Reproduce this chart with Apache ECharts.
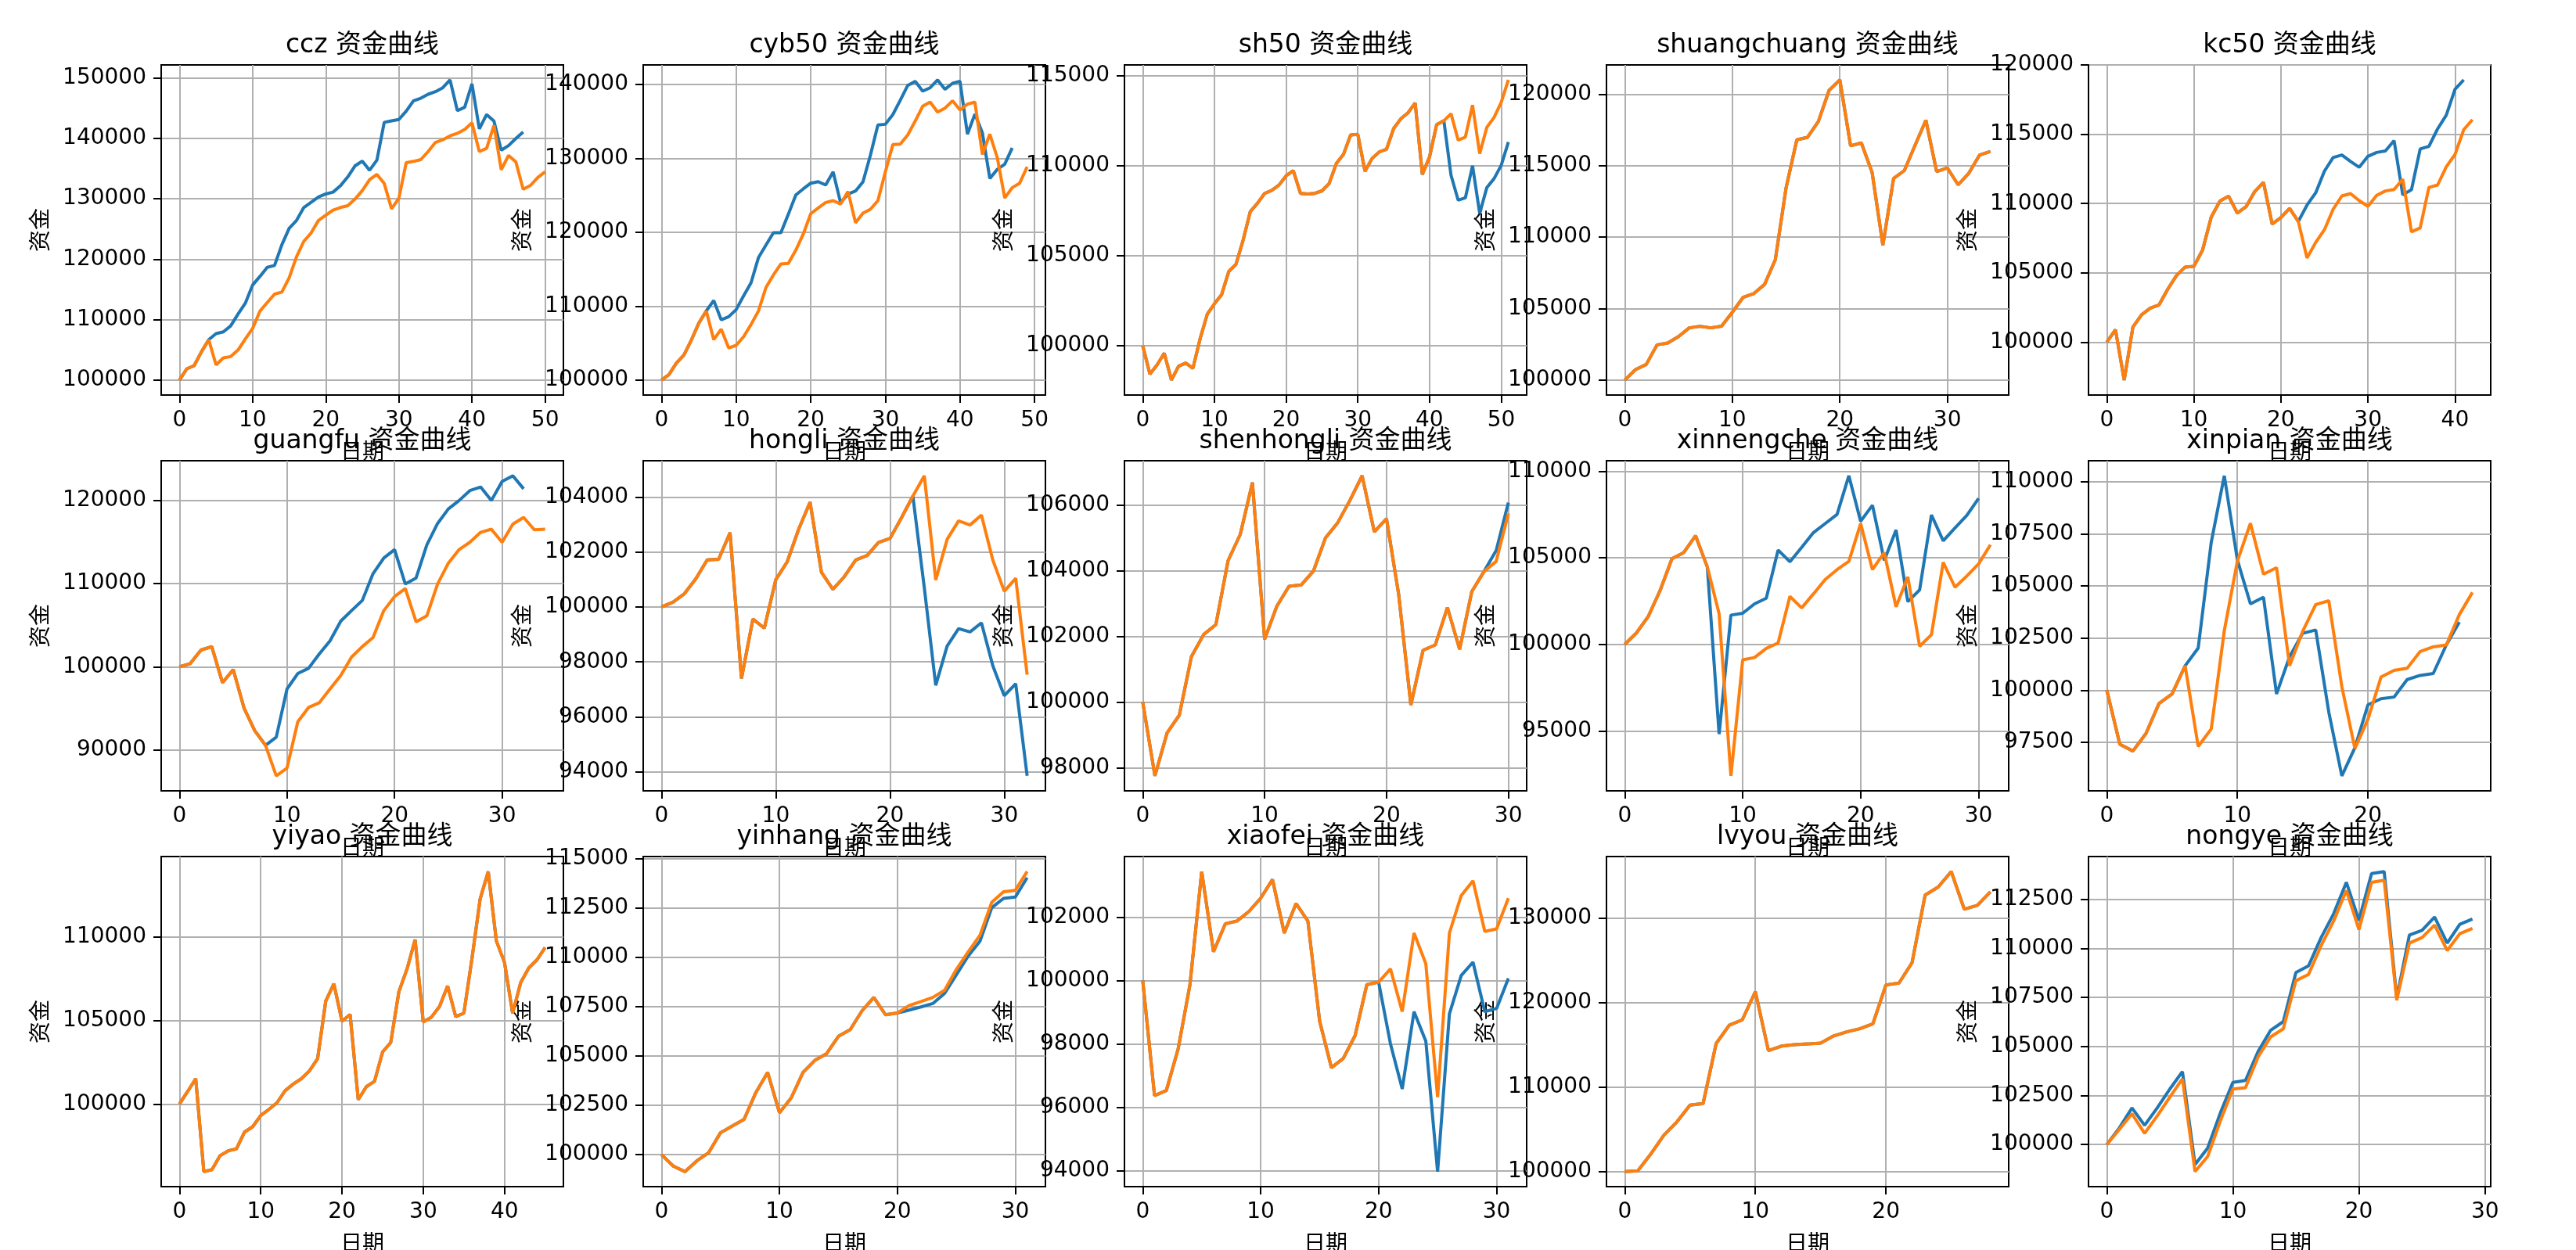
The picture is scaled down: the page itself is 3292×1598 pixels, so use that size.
<!DOCTYPE html>
<html><head><meta charset="utf-8">
<script src="https://cdn.jsdelivr.net/npm/echarts@6/dist/echarts.min.js"></script>
<style>html,body{margin:0;padding:0;background:#fff}#c{width:3292px;height:1598px}</style>
</head><body><div id="c"></div>
<script>
// ---------- labels ----------
const names = ['ccz','cyb50','sh50','shuangchuang','kc50','guangfu','hongli','shenhongli','xinnengche','xinpian','yiyao','yinhang','xiaofei','lvyou','nongye'];
const titleSuffix = '资金曲线';
const yName = '资金';
const xName = '日期';

// ---------- data (blue = strategy A, orange = strategy B) ----------
const cczBlue = [100000,101850,102370,104650,106680,107670,107970,108960,110900,112700,115720,117140,118650,118950,122390,125110,126400,128550,129410,130280,130790,131090,132130,133590,135440,136220,134710,136390,142640,142890,143110,144490,146210,146640,147290,147720,148360,149660,144570,145130,149010,141560,143930,142850,138030,138800,139970,141040];
const cczOrange = [100000,101850,102370,104650,106680,102500,103660,103880,104950,106800,108530,111410,112830,114210,114560,116920,120370,122950,124330,126400,127260,128120,128550,128850,129930,131350,133160,134020,132520,128340,130060,135960,136180,136480,137810,139320,139750,140400,140830,141470,142550,137810,138330,142120,134800,137170,136090,131570,132210,133510,134450];

const cyb50Blue = [100000,100740,102290,103390,105400,107690,109350,110760,108150,108570,109520,111390,113160,116580,118270,119930,119930,122430,125040,125860,126630,126840,126380,128150,123990,125150,125570,126810,130440,134500,134600,135910,137850,139860,140420,139080,139540,140600,139330,140140,140420,133260,135980,133440,127270,128500,129210,131390];
const cyb50Orange = [100000,100740,102290,103390,105400,107690,109350,105470,106880,104340,104690,105860,107510,109350,112520,114220,115700,115770,117570,119750,122500,123280,124020,124270,123810,125500,121270,122570,123100,124270,128150,131850,131920,133160,135030,137040,137600,136260,136790,137780,136540,137320,137600,130510,133260,130090,124620,126030,126630,128850];

const sh50Blue = [100000,98420,98930,99580,98090,98860,99030,98740,100380,101750,102330,102830,104130,104520,105870,107460,107920,108470,108640,108930,109450,109730,108470,108440,108470,108610,109020,110130,110640,111720,111750,109700,110420,110780,110920,112080,112620,112950,113500,109520,110490,112300,112510,109480,108090,108220,110010,107360,108800,109290,110030,111320];
const sh50Orange = [100000,98420,98930,99580,98090,98860,99030,98740,100380,101750,102330,102830,104130,104520,105870,107460,107920,108470,108640,108930,109450,109730,108470,108440,108470,108610,109020,110130,110640,111720,111750,109700,110420,110780,110920,112080,112620,112950,113500,109520,110490,112300,112510,112900,111430,111600,113380,110680,112150,112690,113530,114780];

const shuangchuangBlue = [100000,100730,101090,102460,102590,103040,103650,103760,103650,103770,104740,105780,106050,106690,108420,113440,116810,116990,118090,120270,121000,116390,116590,114530,109430,114110,114660,116440,118180,114590,114840,113660,114480,115750,115990];
const shuangchuangOrange = [100000,100730,101090,102460,102590,103040,103650,103760,103650,103770,104740,105780,106050,106690,108420,113440,116810,116990,118090,120270,121000,116390,116590,114530,109430,114110,114660,116440,118180,114590,114840,113660,114480,115750,115990];

const kc50Blue = [100000,100900,97270,101090,101980,102460,102690,103820,104800,105420,105470,106640,109030,110180,110530,109310,109780,110870,111530,108520,108990,109650,108710,109890,110780,112340,113320,113510,113040,112620,113410,113690,113790,114540,110630,111000,113940,114130,115390,116380,118250,118920];
const kc50Orange = [100000,100900,97270,101090,101980,102460,102690,103820,104800,105420,105470,106640,109030,110180,110530,109310,109780,110870,111530,108520,108990,109650,108710,106080,107200,108110,109590,110550,110720,110210,109800,110590,110910,111020,111760,107960,108240,111160,111340,112660,113540,115330,116050];

const guangfuBlue = [100000,100390,102020,102430,98100,99660,95050,92320,90560,91540,97340,99190,99820,101550,103120,105500,106760,107980,111210,113090,114100,109960,110680,114660,117240,118990,120000,121190,121630,120000,122290,122980,121410];
const guangfuOrange = [100000,100390,102020,102430,98100,99660,95050,92320,90560,86890,87830,93390,95110,95680,97340,98970,101170,102430,103520,106760,108450,109420,105410,106130,109960,112470,114100,114980,116170,116550,114980,117170,117960,116480,116550];

const hongliBlue = [100000,100170,100480,101020,101710,101730,102700,97400,99560,99230,100990,101640,102820,103810,101260,100640,101100,101710,101870,102350,102490,103240,104030,100700,97150,98580,99210,99090,99420,97860,96770,97210,93860];
const hongliOrange = [100000,100170,100480,101020,101710,101730,102700,97400,99560,99230,100990,101640,102820,103810,101260,100640,101100,101710,101870,102350,102490,103240,104030,104770,100980,102460,103130,102980,103340,101700,100570,101040,97540];

const shenhongliBlue = [100000,97750,99060,99600,101390,102060,102360,104310,105110,106690,101910,102920,103530,103570,103990,105010,105470,106150,106900,105190,105590,103280,99910,101580,101740,102880,101610,103370,103980,104620,106080];
const shenhongliOrange = [100000,97750,99060,99600,101390,102060,102360,104310,105110,106690,101910,102920,103530,103570,103990,105010,105470,106150,106900,105190,105590,103280,99910,101580,101740,102880,101610,103370,103980,104290,105750];

const xinnengcheBlue = [100000,100670,101620,103120,104950,105300,106280,104470,94820,101690,101800,102340,102670,105450,104770,105600,106460,106980,107510,109740,107110,108040,104850,106610,102470,103150,107480,105980,106730,107450,108430];
const xinnengcheOrange = [100000,100670,101620,103120,104950,105300,106280,104470,101770,92410,99110,99240,99770,100080,102770,102110,102920,103750,104320,104800,106980,104320,105300,102170,103900,99890,100560,104740,103300,103950,104650,105750];

const xinpianBlue = [100000,97400,97080,97920,99360,99820,101170,102020,107100,110290,106250,104140,104460,99820,101610,102730,102890,98950,95890,97240,99300,99590,99670,100510,100710,100800,102170,103270];
const xinpianOrange = [100000,97400,97080,97920,99360,99820,101170,97300,98140,102860,106190,108010,105570,105880,101170,102820,104110,104290,100170,97200,98610,100630,100950,101050,101860,102080,102170,103630,104690];

const yiyaoBlue = [100000,100750,101520,95950,96070,96910,97200,97310,98320,98640,99310,99680,100080,100800,101200,101520,102000,102720,106170,107210,104970,105370,100270,101040,101360,103130,103690,106730,108090,109860,104920,105210,105850,107080,105240,105450,108730,112290,113940,109780,108490,105450,107290,108170,108650,109380];
const yiyaoOrange = [100000,100750,101520,95950,96070,96910,97200,97310,98320,98640,99310,99680,100080,100800,101200,101520,102000,102720,106170,107210,104970,105370,100270,101040,101360,103130,103690,106730,108090,109860,104920,105210,105850,107080,105240,105450,108730,112290,113940,109780,108490,105450,107290,108170,108650,109380];

const yinhangBlue = [100000,99420,99140,99690,100100,101110,101450,101790,103150,104170,102130,102880,104170,104780,105120,106000,106340,107290,107970,107090,107180,107330,107490,107660,108170,109120,110070,110820,112520,112990,113060,114040];
const yinhangOrange = [100000,99420,99140,99690,100100,101110,101450,101790,103150,104170,102130,102880,104170,104780,105120,106000,106340,107290,107970,107090,107180,107560,107760,107970,108330,109390,110280,111120,112790,113330,113400,114350];

const xiaofeiBlue = [100000,96370,96530,97840,99860,103440,100910,101790,101880,102180,102600,103190,101500,102430,101880,98720,97250,97540,98260,99870,99950,98010,96580,99020,98090,93970,98950,100160,100580,99020,99120,100070];
const xiaofeiOrange = [100000,96370,96530,97840,99860,103440,100910,101790,101880,102180,102600,103190,101500,102430,101880,98720,97250,97540,98260,99870,99950,100370,99020,101500,100530,96320,101500,102680,103150,101550,101630,102600];

const lvyouBlue = [100000,100100,102100,104320,105900,107870,108060,115170,117330,117970,121300,114320,114860,115020,115110,115210,116060,116540,116920,117490,122100,122320,124730,132730,133680,135520,131050,131520,133110];
const lvyouOrange = [100000,100100,102100,104320,105900,107870,108060,115170,117330,117970,121300,114320,114860,115020,115110,115210,116060,116540,116920,117490,122100,122320,124730,132730,133680,135520,131050,131520,133110];

const nongyeBlue = [100000,100850,101870,100980,101870,102830,103720,98980,99820,101600,103170,103270,104740,105830,106270,108770,109110,110550,111780,113370,111430,113820,113920,107470,110680,110920,111600,110270,111230,111500];
const nongyeOrange = [100000,100780,101570,100570,101460,102420,103350,98620,99390,101190,102830,102900,104470,105490,105900,108360,108670,110140,111410,112960,110960,113370,113480,107360,110270,110550,111190,109890,110750,111020];

// ---------- tick labels ----------
const cczXTicks = [0,10,20,30,40,50];           const cczYTicks = [100000,110000,120000,130000,140000,150000];
const cyb50XTicks = [0,10,20,30,40,50];         const cyb50YTicks = [100000,110000,120000,130000,140000];
const sh50XTicks = [0,10,20,30,40,50];          const sh50YTicks = [100000,105000,110000,115000];
const shuangchuangXTicks = [0,10,20,30];        const shuangchuangYTicks = [100000,105000,110000,115000,120000];
const kc50XTicks = [0,10,20,30,40];             const kc50YTicks = [100000,105000,110000,115000,120000];
const guangfuXTicks = [0,10,20,30];             const guangfuYTicks = [90000,100000,110000,120000];
const hongliXTicks = [0,10,20,30];              const hongliYTicks = [94000,96000,98000,100000,102000,104000];
const shenhongliXTicks = [0,10,20,30];          const shenhongliYTicks = [98000,100000,102000,104000,106000];
const xinnengcheXTicks = [0,10,20,30];          const xinnengcheYTicks = [95000,100000,105000,110000];
const xinpianXTicks = [0,10,20];                const xinpianYTicks = [97500,100000,102500,105000,107500,110000];
const yiyaoXTicks = [0,10,20,30,40];            const yiyaoYTicks = [100000,105000,110000];
const yinhangXTicks = [0,10,20,30];             const yinhangYTicks = [100000,102500,105000,107500,110000,112500,115000];
const xiaofeiXTicks = [0,10,20,30];             const xiaofeiYTicks = [94000,96000,98000,100000,102000];
const lvyouXTicks = [0,10,20];                  const lvyouYTicks = [100000,110000,120000,130000];
const nongyeXTicks = [0,10,20,30];              const nongyeYTicks = [100000,102500,105000,107500,110000,112500];

const blues = [cczBlue,cyb50Blue,sh50Blue,shuangchuangBlue,kc50Blue,guangfuBlue,hongliBlue,shenhongliBlue,xinnengcheBlue,xinpianBlue,yiyaoBlue,yinhangBlue,xiaofeiBlue,lvyouBlue,nongyeBlue];
const oranges = [cczOrange,cyb50Orange,sh50Orange,shuangchuangOrange,kc50Orange,guangfuOrange,hongliOrange,shenhongliOrange,xinnengcheOrange,xinpianOrange,yiyaoOrange,yinhangOrange,xiaofeiOrange,lvyouOrange,nongyeOrange];
const xTicks = [cczXTicks,cyb50XTicks,sh50XTicks,shuangchuangXTicks,kc50XTicks,guangfuXTicks,hongliXTicks,shenhongliXTicks,xinnengcheXTicks,xinpianXTicks,yiyaoXTicks,yinhangXTicks,xiaofeiXTicks,lvyouXTicks,nongyeXTicks];
const yTicks = [cczYTicks,cyb50YTicks,sh50YTicks,shuangchuangYTicks,kc50YTicks,guangfuYTicks,hongliYTicks,shenhongliYTicks,xinnengcheYTicks,xinpianYTicks,yiyaoYTicks,yinhangYTicks,xiaofeiYTicks,lvyouYTicks,nongyeYTicks];

// ---------- layout ----------
const LEFTS = [206, 822, 1437, 2053, 2669], TOPS = [83, 589, 1095], W = 514, H = 422;
const FONT = "'DejaVu Sans', 'Noto Sans CJK SC', sans-serif";
const BLUE = '#1f77b4', ORANGE = '#ff7f0e', GRID = '#b0b0b0';

const grid = [], xAxis = [], yAxis = [], series = [], graphic = [];
names.forEach((nm, i) => {
  const r = Math.floor(i / 5), c = i % 5;
  const b = blues[i], o = oranges[i];
  grid.push({left: LEFTS[c], top: TOPS[r], width: W, height: H, show: true,
    borderColor: '#000', borderWidth: 2, backgroundColor: 'rgba(0,0,0,0)',
    containLabel: false, outerBoundsMode: 'none'});
  const n = Math.max(b.length, o.length) - 1;
  const all = b.concat(o);
  const lo = Math.min(...all), hi = Math.max(...all), pad = (hi - lo) * 0.05;
  xAxis.push({type: 'value', gridIndex: i, min: -0.05 * n, max: n * 1.05,
    name: xName, nameLocation: 'middle', nameGap: 61,
    nameTextStyle: {fontSize: 28, color: '#000', fontFamily: FONT},
    axisLine: {show: true, onZero: false, lineStyle: {color: '#000', width: 2}},
    axisTick: {show: true, inside: false, length: 10, customValues: xTicks[i], lineStyle: {color: '#000', width: 2}},
    axisLabel: {show: true, customValues: xTicks[i], margin: 19, fontSize: 28, color: '#000', fontFamily: FONT, formatter: v => String(v)},
    splitLine: {show: true, lineStyle: {color: GRID, width: 2}}});
  yAxis.push({type: 'value', gridIndex: i, min: lo - pad, max: hi + pad,
    name: yName, nameLocation: 'middle', nameGap: 138, nameRotate: 90,
    nameTextStyle: {fontSize: 28, color: '#000', fontFamily: FONT},
    axisLine: {show: true, onZero: false, lineStyle: {color: '#000', width: 2}},
    axisTick: {show: true, inside: false, length: 10, customValues: yTicks[i], lineStyle: {color: '#000', width: 2}},
    axisLabel: {show: true, customValues: yTicks[i], margin: 19, fontSize: 28, color: '#000', fontFamily: FONT, formatter: v => String(v)},
    splitLine: {show: true, lineStyle: {color: GRID, width: 2}}});
  series.push({type: 'line', xAxisIndex: i, yAxisIndex: i, data: b.map((v, k) => [k, v]),
    showSymbol: false, symbol: 'none', lineStyle: {color: BLUE, width: 4}, itemStyle: {color: BLUE}, z: 2});
  series.push({type: 'line', xAxisIndex: i, yAxisIndex: i, data: o.map((v, k) => [k, v]),
    showSymbol: false, symbol: 'none', lineStyle: {color: ORANGE, width: 4}, itemStyle: {color: ORANGE}, z: 3});
  graphic.push({type: 'text', x: LEFTS[c] + W / 2, y: TOPS[r] - 8, z: 100,
    style: {text: nm + ' ' + titleSuffix, fontSize: 33, fontFamily: FONT, fill: '#000',
      align: 'center', verticalAlign: 'bottom', textAlign: 'center', textVerticalAlign: 'bottom'}});
});

const chart = echarts.init(document.getElementById('c'), null, {renderer: 'canvas', width: 3292, height: 1598});
chart.setOption({animation: false, backgroundColor: '#fff', textStyle: {fontFamily: FONT},
  grid, xAxis, yAxis, series, graphic});
</script>
</body></html>
